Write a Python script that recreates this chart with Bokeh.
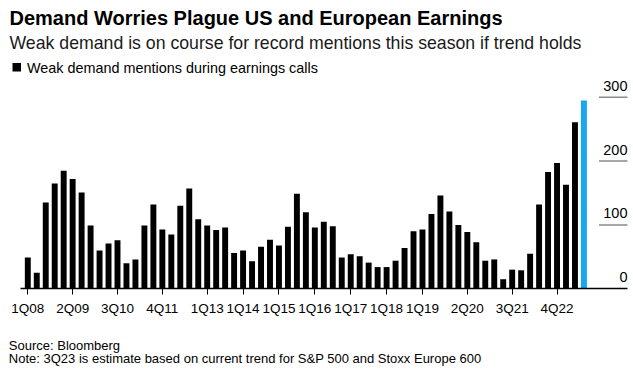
from bokeh.plotting import figure
from bokeh.models import Range1d, FixedTicker, Label, BoxAnnotation, ColumnDataSource
from bokeh.core.properties import value
from bokeh.embed import file_html
from bokeh.resources import INLINE

# ---- data ----
quarters = [f"{q}Q{y:02d}" for y in range(8, 24) for q in range(1, 5)][:63]
mentions = [49, 25, 135, 165, 185, 172, 151, 99, 60, 71, 76, 40, 46, 99, 132, 93,
            85, 130, 157, 109, 99, 92, 96, 56, 60, 43, 66, 77, 68, 97, 149, 120,
            96, 105, 98, 49, 54, 51, 41, 34, 34, 44, 64, 90, 93, 117, 146, 121,
            100, 89, 73, 44, 46, 15, 30, 29, 55, 132, 183, 197, 163, 261, 295]
tick_labels = ["1Q08", "2Q09", "3Q10", "4Q11", "1Q13", "1Q14", "1Q15", "1Q16",
               "1Q17", "1Q18", "1Q19", "2Q20", "3Q21", "4Q22"]
y_ticks = [0, 100, 200, 300]
y_tick_labels = ["0", "100", "200", "300"]

title = "Demand Worries Plague US and European Earnings"
subtitle = "Weak demand is on course for record mentions this season if trend holds"
legend_text = "Weak demand mentions during earnings calls"
source_text = "Source: Bloomberg"
note_text = "Note: 3Q23 is estimate based on current trend for S&P 500 and Stoxx Europe 600"

BLACK = "#000000"
BLUE = "#16a8f2"
FONT = "Liberation Sans"

idx = list(range(len(mentions)))
colors = [BLACK] * (len(mentions) - 1) + [BLUE]
src = ColumnDataSource(dict(x=idx, top=mentions, color=colors, q=quarters))

W, H = 630, 368
# page px -> data: x = (px - 27.3) / 8.97 ; y = (288.3 - py) / 0.6385
X0, PX = 27.3, 8.97
Y0, PY = 288.3, 0.6385


def dx(px):
    return (px - X0) / PX


def dy(py):
    return (Y0 - py) / PY


p = figure(width=W, height=H, output_backend="svg", toolbar_location=None,
           x_range=Range1d(dx(0), dx(W)), y_range=Range1d(dy(H), dy(0)),
           min_border=0, background_fill_color="white",
           border_fill_color="white", outline_line_color=None)

p.vbar(x="x", top="top", width=0.66, color="color", source=src, line_color=None)

# right-side value labels with short grid segments
gx0, gx1 = dx(598.5), dx(627)
p.segment(x0=[gx0] * 3, x1=[gx1] * 3, y0=y_ticks[1:], y1=y_ticks[1:],
          line_color="#8a8a8a", line_width=1.5)
p.text(x=[gx1] * 4, y=y_ticks, text=y_tick_labels, text_align="right",
       text_baseline="alphabetic", y_offset=-11.5, text_font=value(FONT),
       text_font_size="14.5px", text_color="#000000")

# axes
p.yaxis.visible = False
p.grid.visible = False
xa = p.xaxis[0]
xa.fixed_location = 0
xa.bounds = (dx(20), dx(627))
tick_pos = [quarters.index(t) for t in tick_labels]
xa.ticker = FixedTicker(ticks=tick_pos)
xa.major_label_overrides = {i: t for i, t in zip(tick_pos, tick_labels)}
xa.minor_tick_line_color = None
xa.major_tick_in = 0
xa.major_tick_out = 6
xa.major_tick_line_color = "#000000"
xa.major_tick_line_width = 1
xa.axis_line_color = "#000000"
xa.axis_line_width = 1.3
xa.major_label_text_font = FONT
xa.major_label_text_font_size = "13.5px"
xa.major_label_text_color = "#000000"
xa.major_label_standoff = 6


def lab(text, px, py, size, bold=False, color="#000000"):
    fs = float(size.replace("px", ""))
    p.add_layout(Label(x=px, y=H - py + 0.22 * fs, x_units="screen", y_units="screen",
                       text=text, text_font=FONT, text_font_size=size,
                       text_font_style="bold" if bold else "normal",
                       text_color=color, text_baseline="alphabetic",
                       text_align="left"))


lab(title, 9, 22.3, "20px", bold=True)
lab(subtitle, 9, 46.7, "17.7px", color="#1a1a1a")
lab(legend_text, 26.5, 71, "14.4px")
lab(source_text, 8.3, 348.3, "13px")
lab(note_text, 8.3, 361.3, "13px")

p.add_layout(BoxAnnotation(left=12, right=20.5, top=H - 62.5, bottom=H - 71,
                           left_units="screen", right_units="screen",
                           top_units="screen", bottom_units="screen",
                           fill_color="#000000", fill_alpha=1, line_color=None))

open("out.html", "w").write(file_html(p, INLINE))
